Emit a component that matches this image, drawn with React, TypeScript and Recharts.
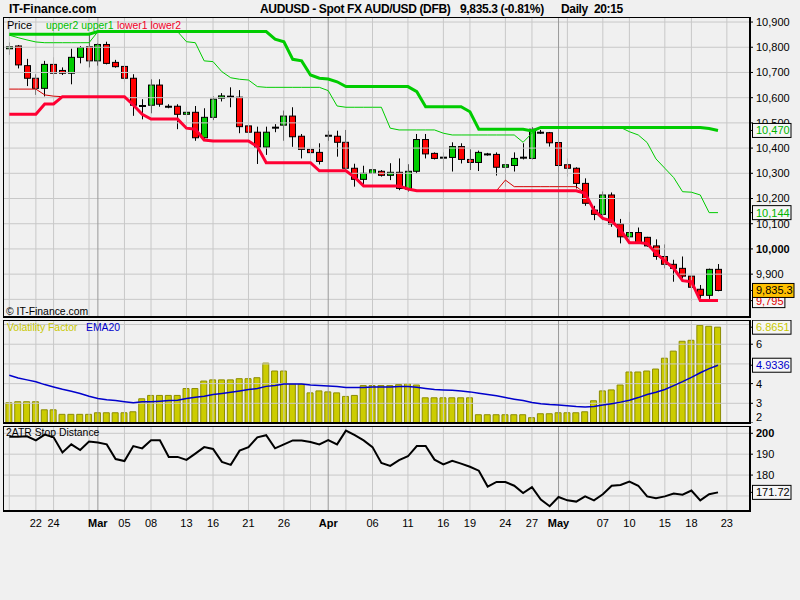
import { ComposedChart, Bar, Line, XAxis, YAxis, ReferenceLine } from "recharts";

// AUDUSD daily candles, 19 Feb - 22 May (FX days incl. Sunday sessions)
const open = [
  10794, 10805, 10727, 10677, 10637, 10732, 10708, 10697, 10760, 10802,
  10746, 10811, 10740, 10724, 10677, 10567, 10570, 10650, 10564, 10566,
  10534, 10542, 10441, 10522, 10598, 10604, 10602, 10488, 10463, 10404,
  10481, 10491, 10527, 10447, 10395, 10383, 10449, 10447, 10423, 10320,
  10276, 10300, 10308, 10292, 10304, 10237, 10308, 10434, 10379, 10362,
  10363, 10406, 10355, 10343, 10375, 10375, 10324, 10331, 10362, 10359,
  10461, 10461, 10422, 10334, 10320, 10260, 10154, 10137, 10214, 10099,
  10048, 10065, 10046, 10012, 9970, 9939, 9923, 9892, 9840, 9816, 9919,
];
const close = [
  10802, 10730, 10677, 10637, 10732, 10697, 10697, 10760, 10799, 10746,
  10811, 10736, 10723, 10677, 10570, 10567, 10650, 10574, 10564, 10534,
  10542, 10441, 10522, 10594, 10607, 10604, 10485, 10463, 10404, 10463,
  10481, 10527, 10445, 10395, 10382, 10347, 10449, 10423, 10320, 10276,
  10300, 10314, 10292, 10304, 10240, 10308, 10434, 10377, 10359, 10362,
  10406, 10355, 10343, 10383, 10375, 10324, 10334, 10359, 10362, 10475,
  10461, 10421, 10331, 10320, 10260, 10181, 10137, 10214, 10099, 10048,
  10065, 10025, 10012, 9970, 9939, 9923, 9892, 9848, 9816, 9919, 9835.3,
];
const high = [
  10819, 10809, 10754, 10693, 10746, 10760, 10720, 10794, 10805, 10856,
  10815, 10822, 10750, 10740, 10693, 10594, 10673, 10673, 10574, 10574,
  10564, 10567, 10558, 10605, 10618, 10641, 10630, 10531, 10485, 10485,
  10495, 10549, 10562, 10456, 10413, 10419, 10469, 10469, 10472, 10338,
  10330, 10340, 10313, 10340, 10359, 10336, 10456, 10456, 10383, 10383,
  10423, 10419, 10395, 10390, 10381, 10383, 10336, 10383, 10419, 10483,
  10472, 10464, 10425, 10359, 10324, 10280, 10171, 10228, 10224, 10119,
  10147, 10085, 10048, 10038, 10018, 9957, 9970, 9903, 9857, 9922, 9940,
];
const low = [
  10770, 10716, 10646, 10611, 10605, 10674, 10690, 10653, 10736, 10720,
  10727, 10732, 10719, 10661, 10528, 10514, 10538, 10564, 10558, 10475,
  10485, 10429, 10432, 10511, 10585, 10562, 10459, 10425, 10337, 10373,
  10463, 10429, 10405, 10359, 10307, 10335, 10429, 10366, 10307, 10247,
  10256, 10276, 10287, 10273, 10233, 10227, 10300, 10359, 10355, 10313,
  10307, 10339, 10313, 10309, 10370, 10291, 10247, 10307, 10355, 10355,
  10456, 10406, 10307, 10287, 10240, 10171, 10114, 10114, 10088, 10022,
  10036, 10022, 10009, 9957, 9923, 9870, 9883, 9794, 9804, 9800, 9832,
];

// stop bands
const upper2 = [
  10848, 10838, 10829, 10821, 10818, 10818, 10818, 10818, 10818, 10818,
  10862, 10862, 10862, 10862, 10862, 10862, 10862, 10862, 10862, 10862,
  10822, 10818, 10746, 10743, 10703, 10679, 10673, 10670, 10644, 10641,
  10641, 10641, 10641, 10641, 10641, 10641, 10628, 10567, 10562, 10562,
  10562, 10562, 10562, 10479, 10472, 10472, 10472, 10472, 10472, 10459,
  10452, 10452, 10452, 10452, 10452, 10452, 10452, 10452, 10423, 10459,
  10482, 10482, 10482, 10482, 10482, 10482, 10482, 10482, 10482, 10482,
  10465, 10452, 10422, 10357, 10320, 10283, 10227, 10225, 10214, 10144, 10144,
];
const upper1 = [
  10852, 10852, 10852, 10852, 10852, 10852, 10852, 10852, 10852, 10852,
  10862, 10862, 10862, 10862, 10862, 10862, 10862, 10862, 10862, 10862,
  10862, 10862, 10862, 10862, 10862, 10862, 10862, 10862, 10862, 10862,
  10832, 10822, 10752, 10746, 10690, 10677, 10674, 10663, 10644, 10644,
  10644, 10644, 10644, 10644, 10644, 10644, 10624, 10564, 10564, 10564,
  10564, 10564, 10544, 10475, 10475, 10475, 10475, 10475, 10475, 10468,
  10482, 10482, 10482, 10482, 10482, 10482, 10482, 10482, 10482, 10482,
  10482, 10482, 10482, 10482, 10482, 10482, 10482, 10482, 10482, 10478, 10470,
];
const lower1 = [
  10534, 10534, 10534, 10534, 10575, 10575, 10604, 10604, 10604, 10604,
  10604, 10604, 10604, 10604, 10571, 10534, 10515, 10515, 10515, 10515,
  10479, 10475, 10432, 10428, 10428, 10428, 10428, 10428, 10406, 10342,
  10342, 10342, 10342, 10342, 10342, 10310, 10310, 10310, 10310, 10284,
  10250, 10250, 10250, 10250, 10250, 10238, 10231, 10231, 10231, 10231,
  10231, 10231, 10231, 10231, 10231, 10231, 10231, 10231, 10231, 10231,
  10231, 10231, 10231, 10231, 10231, 10221, 10154, 10121, 10111, 10075,
  10025, 10025, 10022, 9983, 9953, 9923, 9874, 9870, 9795, 9795, 9795,
];
const lower2 = [
  10634, 10634, 10634, 10634, 10611, 10606, 10604, 10604, 10604, 10604,
  10604, 10604, 10604, 10604, 10571, 10534, 10515, 10515, 10515, 10515,
  10479, 10475, 10432, 10428, 10428, 10428, 10428, 10428, 10406, 10342,
  10342, 10342, 10342, 10342, 10342, 10310, 10310, 10310, 10310, 10284,
  10250, 10250, 10250, 10250, 10250, 10238, 10231, 10231, 10231, 10231,
  10231, 10231, 10231, 10231, 10231, 10231, 10273, 10247, 10247, 10247,
  10247, 10247, 10247, 10247, 10247, 10221, 10154, 10121, 10111, 10075,
  10025, 10025, 10022, 9983, 9953, 9923, 9874, 9870, 9795, 9795, 9795,
];

const volFactor = [
  3.03, 3.08, 3.08, 3.08, 2.67, 2.67, 2.44, 2.44, 2.44, 2.44,
  2.52, 2.52, 2.52, 2.52, 2.57, 3.23, 3.4, 3.4, 3.4, 3.4,
  3.75, 3.75, 4.13, 4.19, 4.19, 4.19, 4.25, 4.25, 4.3, 5.04,
  4.64, 4.64, 3.98, 3.98, 3.53, 3.63, 3.58, 3.53, 3.35, 3.4,
  3.9, 3.9, 3.9, 3.9, 3.95, 4.0, 3.93, 3.28, 3.28, 3.28,
  3.28, 3.28, 3.28, 2.42, 2.42, 2.42, 2.42, 2.42, 2.42, 2.27,
  2.47, 2.47, 2.52, 2.52, 2.52, 2.57, 3.13, 3.63, 3.68, 3.93,
  4.59, 4.59, 4.64, 4.74, 5.29, 5.65, 6.15, 6.2, 6.96, 6.91, 6.8651,
];
const ema20 = [
  4.42, 4.29, 4.19, 4.09, 3.95, 3.83, 3.71, 3.61, 3.5, 3.36,
  3.24, 3.18, 3.14, 3.08, 3.03, 3.08, 3.08, 3.11, 3.14, 3.16,
  3.24, 3.31, 3.36, 3.45, 3.5, 3.56, 3.63, 3.7, 3.75, 3.86,
  3.91, 3.98, 3.98, 3.98, 3.93, 3.91, 3.88, 3.85, 3.8, 3.8,
  3.8, 3.83, 3.83, 3.83, 3.85, 3.85, 3.81, 3.75, 3.7, 3.68,
  3.66, 3.63, 3.58, 3.51, 3.45, 3.38, 3.29, 3.21, 3.14, 3.04,
  2.98, 2.94, 2.91, 2.88, 2.84, 2.81, 2.84, 2.91, 2.98, 3.06,
  3.16, 3.29, 3.45, 3.56, 3.7, 3.9, 4.1, 4.32, 4.55, 4.76, 4.9336,
];
const atrStop = [
  198.4, 198.4, 198.6, 196.6, 199.4, 198.1, 190.8, 194.7, 192.0, 196.1,
  195.6, 194.7, 187.7, 186.7, 193.9, 192.8, 196.7, 196.7, 188.7, 188.7,
  187.3, 190.3, 193.4, 192.5, 186.3, 184.9, 191.7, 193.4, 198.1, 199.1,
  192.8, 194.7, 196.6, 196.6, 195.8, 194.7, 196.7, 194.7, 201.3, 199.1,
  196.6, 193.4, 185.8, 184.4, 187.2, 189.0, 193.9, 193.9, 187.4, 185.1,
  186.8, 185.5, 184.0, 182.1, 174.5, 176.7, 176.7, 174.9, 171.4, 174.2,
  168.3, 165.1, 169.5, 167.9, 167.3, 169.8, 167.9, 170.8, 174.9, 175.3,
  176.9, 174.9, 169.8, 168.9, 169.8, 171.2, 170.6, 172.6, 167.9, 170.8, 171.72,
];

// x axis: bar index of each date label
const labelIdx = [3, 5, 10, 13, 16, 20, 23, 27, 31, 36, 41, 45, 49, 52, 56, 59, 62, 67, 70, 74, 77, 81];
const labelText = ["22", "24", "Mar", "05", "08", "13", "16", "21", "26", "Apr", "06", "11", "16", "19", "24", "27", "May", "07", "10", "15", "18", "23"];
const gridIdx = [0, 3, 5, 9, 13, 16, 20, 23, 27, 31, 34, 38, 41, 45, 49, 52, 56, 59, 63, 67, 70, 74, 77, 81];
const monthIdx = [10, 36, 62];

// y axes: grid levels and the levels that carry a visible label
const priceGrid = [9800, 9900, 10000, 10100, 10200, 10300, 10400, 10500, 10600, 10700, 10800, 10900];
const priceTicks = [9900, 10000, 10100, 10200, 10300, 10400, 10500, 10600, 10700, 10800, 10900];
const volGrid = [3, 4, 5, 6, 7];
const volTicks = [2, 3, 4, 6];
const atrGrid = [170, 180, 190, 200];
const atrTicks = [180, 190, 200];

const last = open.length - 1;
const rows = open.map((o, i) => ({
  i,
  o,
  c: close[i],
  h: high[i],
  l: low[i],
  range: [low[i], high[i]],
  u1: upper1[i],
  u2: upper2[i],
  l1: lower1[i],
  l2: lower2[i],
  vol: volFactor[i],
  ema: ema20[i],
  atr: atrStop[i],
}));

const FONT = "'Liberation Sans', Arial, sans-serif";
const BG = "#f0f0f0";
const GRID = "#c8c8c8";
const MONTH = "#999999";
const GREEN = "#00cc00";
const RED = "#ff0033";
const X_DOMAIN = [-0.71, 83.5];
const MARGIN = { top: 0, right: 0, bottom: 0, left: 3 };

type ValueBox = { v: number; text: string; color: string; bg: string };

const textWidth = (s: string) => s.split("").reduce((w, ch) => w + (/[0-9]/.test(ch) ? 6.1 : 3), 0);

function makeTick(boxes: ValueBox[], fmt: (v: number) => string, bold: number[], liftAt: number[]) {
  return (p: any) => {
    const v = p.payload.value;
    const b = boxes.find((bx) => bx.v === v);
    if (b) {
      return (
        <g>
          <rect x={p.x - 3.5} y={p.y - 7} width={textWidth(b.text) + 5} height={14} fill={b.bg} stroke="#000" />
          <text x={p.x} y={p.y} dy="0.355em" textAnchor="start" fontSize={11} fill={b.color}>
            {b.text}
          </text>
        </g>
      );
    }
    const dy = liftAt.includes(v) ? -6 : 0;
    return (
      <text x={p.x} y={p.y + dy} dy="0.355em" textAnchor="start" fontSize={11} fontWeight={bold.includes(v) ? 700 : 400} fill="#000">
        {fmt(v)}
      </text>
    );
  };
}

const priceBoxes: ValueBox[] = [
  { v: lower1[last], text: lower1[last].toLocaleString("en-US"), color: "#e00000", bg: "#f6f6f6" },
  { v: close[last], text: close[last].toLocaleString("en-US"), color: "#000", bg: "#ffc000" },
  { v: upper2[last], text: upper2[last].toLocaleString("en-US"), color: "#00b400", bg: "#f6f6f6" },
  { v: upper1[last], text: upper1[last].toLocaleString("en-US"), color: "#00b400", bg: "#f6f6f6" },
];
const volBoxes: ValueBox[] = [
  { v: ema20[last], text: ema20[last].toFixed(4), color: "#0000cc", bg: "#f6f6f6" },
  { v: volFactor[last], text: volFactor[last].toFixed(4), color: "#c8c800", bg: "#f6f6f6" },
];
const atrBoxes: ValueBox[] = [{ v: atrStop[last], text: atrStop[last].toFixed(2), color: "#000", bg: "#f6f6f6" }];

const Candle = (p: any) => {
  const { x, y, width, height, payload } = p;
  if (payload == null || height == null) return null;
  const top = Math.min(y, y + height);
  const h = Math.abs(height);
  const span = payload.h - payload.l || 1;
  const yOf = (v: number) => top + ((payload.h - v) / span) * h;
  const cx = Math.round(x + width / 2) + 0.5;
  const bx = Math.round(x) + 0.5;
  const bw = Math.round(width);
  if (Math.abs(payload.o - payload.c) < 0.5) {
    return (
      <g>
        <line x1={cx} x2={cx} y1={top} y2={top + h} stroke="#000" strokeWidth={1} />
        <rect x={bx - 0.5} y={yOf(payload.o) - 1} width={bw + 1} height={2} fill="#000" />
      </g>
    );
  }
  const yt = yOf(Math.max(payload.o, payload.c));
  const yb = yOf(Math.min(payload.o, payload.c));
  return (
    <g>
      <line x1={cx} x2={cx} y1={top} y2={top + h} stroke="#000" strokeWidth={1} />
      <rect x={bx} y={yt} width={bw} height={Math.max(1, yb - yt)} fill={payload.c > payload.o ? GREEN : "#ff0000"} stroke="#000" strokeWidth={1} />
    </g>
  );
};

const XTick = (p: any) => {
  const k = labelIdx.indexOf(p.payload.value);
  const t = k >= 0 ? labelText[k] : "";
  return (
    <text x={p.x} y={p.y} dy="0.71em" textAnchor="middle" fontSize={11} fontWeight={t.length === 3 ? 700 : 400} fill="#000">
      {t}
    </text>
  );
};

const vGrid = () => [
  ...gridIdx.map((g) => <ReferenceLine key={"g" + g} x={g} stroke={GRID} strokeWidth={1} />),
  ...monthIdx.map((m) => <ReferenceLine key={"m" + m} x={m} stroke={MONTH} strokeWidth={1} />),
];

const panel = (top: number, height: number) => ({
  position: "absolute" as const,
  left: 3,
  top,
  width: 748,
  height,
  boxSizing: "border-box" as const,
  borderTop: "1px solid #000",
  borderLeft: "1px solid #000",
  borderRight: "2px solid #000",
  borderBottom: "2px solid #000",
  pointerEvents: "none" as const,
});

const abs = (left: number, top: number, color: string, extra: any = {}) => ({
  position: "absolute" as const,
  left,
  top,
  color,
  fontSize: 10.4,
  lineHeight: "13px",
  whiteSpace: "pre" as const,
  ...extra,
});

const head = { fontSize: 12, fontWeight: 700, lineHeight: "14px", letterSpacing: "-0.35px" };

export default function App() {
  return (
    <div style={{ position: "absolute", left: 0, top: 0, width: 800, height: 600, background: BG, fontFamily: FONT, overflow: "hidden" }}>
      {/* header */}
      <div style={abs(9, 2, "#000", { ...head, letterSpacing: "0px" })}>IT-Finance.com</div>
      <div style={abs(260, 2, "#000", head)}>AUDUSD - Spot FX AUD/USD (DFB)</div>
      <div style={abs(460, 2, "#000", head)}>9,835.3 (-0.81%)</div>
      <div style={abs(561, 2, "#000", head)}>Daily  20:15</div>

      {/* price panel */}
      <div style={{ position: "absolute", left: 0, top: 17 }}>
        <ComposedChart width={800} height={300} data={rows} margin={MARGIN}>
          <XAxis type="number" dataKey="i" domain={X_DOMAIN} allowDataOverflow hide />
          <YAxis
            orientation="right"
            width={51}
            type="number"
            domain={[9730, 10920]}
            allowDataOverflow
            ticks={[...priceTicks, ...priceBoxes.map((b) => b.v)]}
            interval={0}
            axisLine={false}
            tickLine={{ stroke: "#000" }}
            tickSize={4}
            tickMargin={3}
            tick={makeTick(priceBoxes, (v) => v.toLocaleString("en-US"), [10000], [])}
          />
          {priceGrid.map((t) => (
            <ReferenceLine key={"h" + t} y={t} stroke={GRID} strokeWidth={1} />
          ))}
          {vGrid()}
          <Bar dataKey="range" barSize={6} shape={Candle} isAnimationActive={false} />
          <Line dataKey="u2" stroke={GREEN} strokeWidth={1} dot={false} isAnimationActive={false} />
          <Line dataKey="u1" stroke={GREEN} strokeWidth={3} dot={false} isAnimationActive={false} />
          <Line dataKey="l2" stroke="#d40000" strokeWidth={1} dot={false} isAnimationActive={false} />
          <Line dataKey="l1" stroke={RED} strokeWidth={3} dot={false} isAnimationActive={false} />
        </ComposedChart>
      </div>
      <div style={panel(17, 301)} />
      <div style={abs(7, 19, "#000", { fontSize: 11 })}>Price</div>
      <div style={abs(46, 19, "#00c000")}>upper2 upper1</div>
      <div style={abs(117, 19, "#f00028")}>lower1 lower2</div>
      <div style={abs(6, 305, "#000")}>© IT-Finance.com</div>

      {/* volatility panel */}
      <div style={{ position: "absolute", left: 0, top: 320 }}>
        <ComposedChart width={800} height={103} data={rows} margin={MARGIN}>
          <XAxis type="number" dataKey="i" domain={X_DOMAIN} allowDataOverflow hide />
          <YAxis
            orientation="right"
            width={51}
            type="number"
            domain={[2, 7.23]}
            allowDataOverflow
            ticks={[...volTicks, ...volBoxes.map((b) => b.v)]}
            interval={0}
            axisLine={false}
            tickLine={{ stroke: "#000" }}
            tickSize={4}
            tickMargin={3}
            tick={makeTick(volBoxes, (v) => String(v), [], [2])}
          />
          {volGrid.map((t) => (
            <ReferenceLine key={"h" + t} y={t} stroke={GRID} strokeWidth={1} />
          ))}
          {vGrid()}
          <Bar dataKey="vol" barSize={6} fill="#cccc00" stroke="#8c8c00" strokeWidth={1} isAnimationActive={false} />
          <Line dataKey="ema" stroke="#0000cc" strokeWidth={1.5} dot={false} isAnimationActive={false} />
        </ComposedChart>
      </div>
      <div style={panel(320, 104)} />
      <div style={abs(7, 321, "#c8c800")}>Volatility Factor</div>
      <div style={abs(86, 321, "#0000cc")}>EMA20</div>

      {/* ATR stop distance panel */}
      <div style={{ position: "absolute", left: 0, top: 426 }}>
        <ComposedChart width={800} height={110} data={rows} margin={MARGIN}>
          <XAxis
            type="number"
            dataKey="i"
            domain={X_DOMAIN}
            allowDataOverflow
            ticks={labelIdx}
            interval={0}
            height={25}
            axisLine={false}
            tickLine={false}
            tickSize={6}
            tickMargin={2}
            tick={XTick}
          />
          <YAxis
            orientation="right"
            width={51}
            type="number"
            domain={[162.8, 203.5]}
            allowDataOverflow
            ticks={[...atrTicks, ...atrBoxes.map((b) => b.v)]}
            interval={0}
            axisLine={false}
            tickLine={{ stroke: "#000" }}
            tickSize={4}
            tickMargin={3}
            tick={makeTick(atrBoxes, (v) => String(v), [200], [])}
          />
          {atrGrid.map((t) => (
            <ReferenceLine key={"h" + t} y={t} stroke={GRID} strokeWidth={1} />
          ))}
          {vGrid()}
          <Line dataKey="atr" stroke="#000" strokeWidth={2} dot={false} isAnimationActive={false} />
        </ComposedChart>
      </div>
      <div style={panel(426, 86)} />
      <div style={abs(6, 426, "#000")}>2ATR Stop Distance</div>
    </div>
  );
}
